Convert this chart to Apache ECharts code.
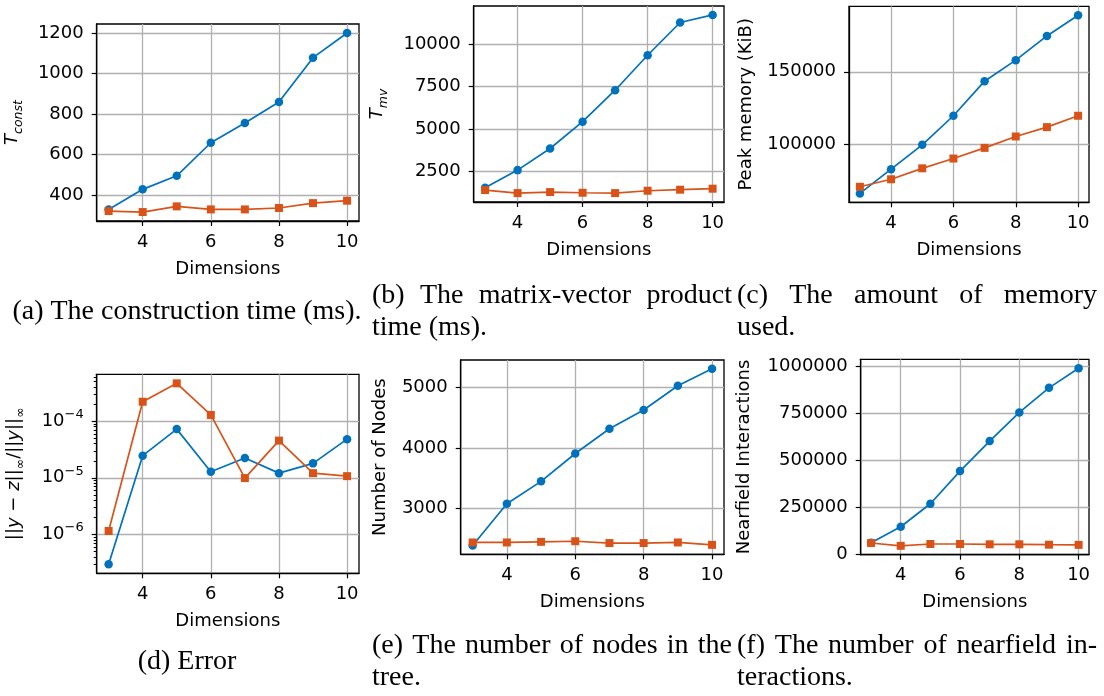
<!DOCTYPE html>
<html>
<head>
<meta charset="utf-8">
<script src="https://cdn.jsdelivr.net/npm/echarts@6/dist/echarts.min.js"></script>
<style>
  html, body { margin: 0; padding: 0; background: #fff; }
  #main { width: 1104px; height: 696px; }
</style>
</head>
<body>
<div id="main"></div>
<script>
// Problem dimension on the horizontal axis of every panel
const dims = [3, 4, 5, 6, 7, 8, 9, 10];
const dimTicks = [4, 6, 8, 10];

// (a) construction time (ms)
const constTimeA = [329, 428, 495, 658, 756, 859, 1078, 1200];
const constTimeB = [321, 316, 344, 329, 329, 336, 360, 372];
const constTicks = [400, 600, 800, 1000, 1200];

// (b) matrix-vector product time (ms)
const mvTimeA = [1520, 2560, 3840, 5430, 7290, 9360, 11300, 11750];
const mvTimeB = [1380, 1200, 1260, 1220, 1200, 1340, 1400, 1460];
const mvTicks = [2500, 5000, 7500, 10000];

// (c) peak memory (KiB)
const memA = [65600, 82400, 99300, 119500, 143500, 158100, 174900, 189300];
const memB = [70200, 75400, 83000, 89800, 97200, 105100, 111600, 119500];
const memTicks = [100000, 150000];

// (d) relative error
const errA = [2.97e-7, 2.46e-5, 7.26e-5, 1.28e-5, 2.24e-5, 1.21e-5, 1.80e-5, 4.82e-5];
const errB = [1.15e-6, 2.21e-4, 4.67e-4, 1.29e-4, 9.9e-6, 4.55e-5, 1.21e-5, 1.07e-5];
const errTicks = [1e-6, 1e-5, 1e-4];

// (e) number of tree nodes
const nodesA = [2390, 3080, 3450, 3910, 4320, 4630, 5030, 5310];
const nodesB = [2440, 2440, 2450, 2460, 2430, 2430, 2440, 2400];
const nodeTicks = [3000, 4000, 5000];

// (f) nearfield interactions
const nearA = [63600, 148400, 270300, 443600, 602600, 754600, 885000, 989400];
const nearB = [62000, 47000, 56700, 56700, 55000, 55000, 53000, 52000];
const nearTicks = [0, 250000, 500000, 750000, 1000000];

// Sub-figure captions
const captionA = ['(a) The construction time (ms).'];
const captionB = ['(b) The matrix-vector product', 'time (ms).'];
const captionC = ['(c) The amount of memory', 'used.'];
const captionD = ['(d) Error'];
const captionE = ['(e) The number of nodes in the', 'tree.'];
const captionF = ['(f) The number of nearfield in-', 'teractions.'];

const BLUE = '#0072bd';
const ORANGE = '#d95319';
const FONT = 'DejaVu Sans';
const FS = 18;
const CAP_FONT = '28px "Liberation Serif"';

// axis range with 5% padding on both sides
function padded(values, log) {
  const v = log ? values.map(Math.log10) : values;
  const lo = Math.min(...v), hi = Math.max(...v);
  const r = hi - lo;
  let a = lo - 0.05 * r, b = hi + 0.05 * r;
  if (log) { a = Math.pow(10, a); b = Math.pow(10, b); }
  return [a, b];
}

const panels = [
  { grid: { left: 96.7, top: 24, width: 262.3, height: 197 }, a: constTimeA, b: constTimeB, ticks: constTicks,
    name: '{i|T}{s|const}', nameGap: 71 },
  { grid: { left: 473.7, top: 6, width: 250.3, height: 196 }, a: mvTimeA, b: mvTimeB, ticks: mvTicks,
    name: '{i|T}{s|mv}', nameGap: 83 },
  { grid: { left: 849, top: 6.3, width: 240, height: 196 }, a: memA, b: memB, ticks: memTicks,
    name: 'Peak memory (KiB)', nameGap: 94 },
  { grid: { left: 96.7, top: 374.3, width: 262.3, height: 199 }, a: errA, b: errB, ticks: errTicks, log: true,
    name: '{n|||}{i|y}{n| − }{i|z}{n|||}{s|∞}{n|/||}{i|y}{n|||}{s|∞}', nameGap: 69 },
  { grid: { left: 460.7, top: 360, width: 263.3, height: 194.3 }, a: nodesA, b: nodesB, ticks: nodeTicks,
    name: 'Number of Nodes', nameGap: 71 },
  { grid: { left: 860.7, top: 359.3, width: 228.3, height: 195.4 }, a: nearA, b: nearB, ticks: nearTicks,
    name: 'Nearfield Interactions', nameGap: 107 }
];

const nameRich = {
  i: { fontFamily: FONT, fontSize: FS, fontStyle: 'italic', color: '#000', lineHeight: 26 },
  n: { fontFamily: FONT, fontSize: FS, color: '#000', lineHeight: 26 },
  s: { fontFamily: FONT, fontSize: 12.5, fontStyle: 'italic', color: '#000', lineHeight: 13, verticalAlign: 'bottom' }
};

const plain = v => String(Math.round(v));

const grids = [], xAxes = [], yAxes = [], series = [];
const xExt = padded(dims);

panels.forEach((p, k) => {
  grids.push(Object.assign({ show: true, borderColor: '#000', borderWidth: 1.3, backgroundColor: 'transparent' }, p.grid));
  xAxes.push({
    type: 'value', gridIndex: k, min: xExt[0], max: xExt[1],
    name: 'Dimensions', nameLocation: 'middle', nameGap: 39,
    nameTextStyle: { fontFamily: FONT, fontSize: FS, color: '#000' },
    axisLine: { show: true, lineStyle: { color: '#000', width: 1.3 } },
    axisTick: { show: true, length: 5, customValues: dimTicks, lineStyle: { color: '#000', width: 1.2 } },
    axisLabel: { customValues: dimTicks, margin: 12, fontFamily: FONT, fontSize: FS, color: '#000', formatter: plain },
    splitLine: { show: true, lineStyle: { color: '#b0b0b0', width: 1.3 } }
  });
  const ext = padded(p.a.concat(p.b), p.log);
  const y = {
    type: p.log ? 'log' : 'value', gridIndex: k, min: ext[0], max: ext[1],
    name: p.name, nameLocation: 'middle', nameRotate: 90, nameGap: p.nameGap,
    nameTextStyle: { fontFamily: FONT, fontSize: FS, color: '#000', rich: nameRich },
    axisLine: { show: true, lineStyle: { color: '#000', width: 1.3 } },
    axisTick: { show: true, length: 5, customValues: p.ticks, lineStyle: { color: '#000', width: 1.2 } },
    axisLabel: { customValues: p.ticks, margin: 13, fontFamily: FONT, fontSize: FS, color: '#000', formatter: plain },
    splitLine: { show: true, lineStyle: { color: '#b0b0b0', width: 1.3 } }
  };
  if (p.log) {
    y.logBase = 10;
    y.axisLabel.formatter = v => '{b|10}{p|−' + Math.round(-Math.log10(v)) + '}';
    y.axisLabel.rich = {
      b: { fontFamily: FONT, fontSize: FS, color: '#000', lineHeight: 26 },
      p: { fontFamily: FONT, fontSize: 13, color: '#000', lineHeight: 14, verticalAlign: 'top' }
    };
  }
  yAxes.push(y);
  series.push({
    type: 'line', xAxisIndex: k, yAxisIndex: k, z: 3,
    data: dims.map((d, j) => [d, p.a[j]]),
    symbol: 'circle', symbolSize: 8.5,
    lineStyle: { color: BLUE, width: 1.7 }, itemStyle: { color: BLUE }
  });
  series.push({
    type: 'line', xAxisIndex: k, yAxisIndex: k, z: 4,
    data: dims.map((d, j) => [d, p.b[j]]),
    symbol: 'rect', symbolSize: 8,
    lineStyle: { color: ORANGE, width: 1.7 }, itemStyle: { color: ORANGE }
  });
});

// Minor ticks of the logarithmic error axis, drawn on an overlaid grid
const errExt = padded(errA.concat(errB), true);
const minorTicks = [];
for (let e = -7; e <= -3; e++) for (let m = 2; m <= 9; m++) minorTicks.push(m * Math.pow(10, e));
grids.push(Object.assign({ show: false }, panels[3].grid));
xAxes.push({ type: 'value', gridIndex: 6, min: xExt[0], max: xExt[1], show: false });
yAxes.push({
  type: 'log', logBase: 10, gridIndex: 6, min: errExt[0], max: errExt[1],
  axisLine: { show: false },
  axisTick: { show: true, length: 3, customValues: minorTicks, lineStyle: { color: '#000', width: 1 } },
  axisLabel: { show: false },
  splitLine: { show: false }
});

// Captions, justified like a typeset paragraph
const mctx = document.createElement('canvas').getContext('2d');
mctx.font = CAP_FONT;
const cols = [[7, 367], [372, 732], [737, 1097]];
const graphics = [];
function textEl(t, x, y, align) {
  return { type: 'text', x: x, y: y, silent: true,
    style: { text: t, font: CAP_FONT, fill: '#000', textAlign: align, textVerticalAlign: 'middle' } };
}
function placeCaption(lines, col, yMid) {
  const [x0, x1] = col;
  if (lines.length === 1) {
    graphics.push(textEl(lines[0], (x0 + x1) / 2, yMid, 'center'));
    return;
  }
  const lh = 32;
  const y1 = yMid - lh / 2, y2 = yMid + lh / 2;
  const words = lines[0].split(' ');
  const widths = words.map(w => mctx.measureText(w).width);
  const total = widths.reduce((s, w) => s + w, 0);
  const gap = (x1 - x0 - total) / (words.length - 1);
  let x = x0;
  words.forEach((w, i) => { graphics.push(textEl(w, x, y1, 'left')); x += widths[i] + gap; });
  graphics.push(textEl(lines[1], x0, y2, 'left'));
}
placeCaption(captionA, cols[0], 312);
placeCaption(captionB, cols[1], 312);
placeCaption(captionC, cols[2], 312);
placeCaption(captionD, cols[0], 662);
placeCaption(captionE, cols[1], 662);
placeCaption(captionF, cols[2], 662);

const chart = echarts.init(document.getElementById('main'), null, { renderer: 'canvas' });
chart.setOption({
  animation: false,
  backgroundColor: '#fff',
  grid: grids,
  xAxis: xAxes,
  yAxis: yAxes,
  series: series,
  graphic: graphics
});
</script>
</body>
</html>
